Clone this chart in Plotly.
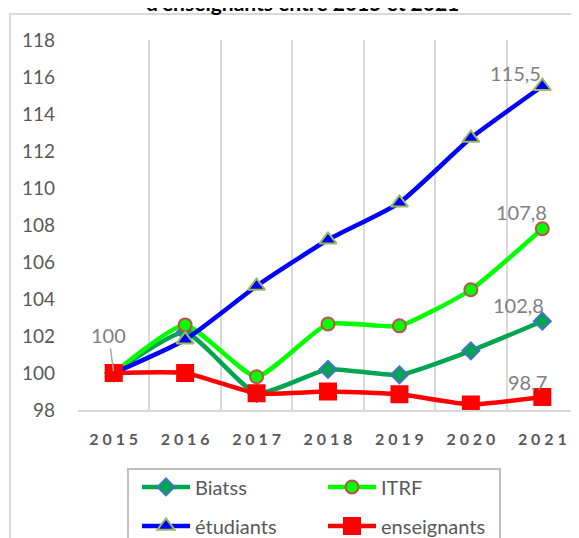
import plotly.graph_objects as go

years = [2015, 2016, 2017, 2018, 2019, 2020, 2021]
biatss = [100, 102.2, 98.9, 100.2, 99.9, 101.2, 102.8]
itrf = [100, 102.6, 99.8, 102.65, 102.55, 104.5, 107.8]
etudiants = [100, 101.8, 104.7, 107.2, 109.2, 112.7, 115.5]
enseignants = [100, 100.0, 98.9, 99.0, 98.85, 98.3, 98.7]
series_names = ["Biatss", "ITRF", "étudiants", "enseignants"]
title_line = "d'enseignants entre 2015 et 2021"
y_ticks = list(range(98, 119, 2))

FONT = "Lato"
GRID = "#d9d9d9"

fig = go.Figure()

styles = [
    (biatss, "#00A550", "diamond", 13, "#4472C4", "legend"),
    (itrf, "#00FF00", "circle", 13, "#C0504D", "legend"),
    (etudiants, "#0000FF", "triangle-up", 15, "#9BBB59", "legend2"),
    (enseignants, "#FF0000", "square", 16, "#FF0000", "legend2"),
]
for name, (vals, col, sym, size, edge, leg) in zip(series_names, styles):
    fig.add_trace(go.Scatter(
        x=years, y=vals, name=name, mode="lines+markers",
        line=dict(color=col, width=4.5, shape="spline", smoothing=0.5),
        marker=dict(symbol=sym, size=size, color=col, line=dict(color=edge, width=2)),
        legend=leg,
    ))

def fmt(v):
    s = f"{v:.1f}".replace(".", ",")
    return s[:-2] if s.endswith(",0") else s

# data labels on the last points
for vals, dx, dy in [(etudiants, -27, 13), (itrf, -21, 17), (biatss, -24, 16), (enseignants, -15, 15)]:
    fig.add_annotation(x=years[-1], y=vals[-1], text=fmt(vals[-1]), showarrow=False,
                       xshift=dx, yshift=dy, font=dict(family=FONT, size=20, color="#808080"))
fig.add_annotation(x=years[0], y=enseignants[0], text=fmt(enseignants[0]), showarrow=True,
                   arrowhead=0, arrowwidth=1.5, arrowcolor="#a6a6a6", ax=-5, ay=-38, standoff=2,
                   font=dict(family=FONT, size=20, color="#808080"))

# title: only its last line shows at the top edge, as in the source
fig.add_annotation(xref="paper", yref="paper", x=0.448, y=1.062, yanchor="bottom",
                   text="<b>" + title_line + "</b>", showarrow=False,
                   font=dict(family=FONT, size=21, color="#000000"))

# chart frame and legend box
fig.add_shape(type="rect", xref="paper", yref="paper", x0=-0.136, x1=1.2, y0=-0.5, y1=1.0703,
              line=dict(color=GRID, width=2), layer="below")
fig.add_shape(type="rect", xref="paper", yref="paper", x0=0.1, x1=0.844, y0=-0.5, y1=-0.1595,
              line=dict(color="#bfbfbf", width=2), layer="below")

leg_common = dict(orientation="h", x=0.118, xanchor="left", yanchor="middle",
                  entrywidth=123, itemwidth=48,
                  font=dict(family=FONT, size=20, color="#595959"),
                  bgcolor="rgba(0,0,0,0)", traceorder="normal")

fig.update_layout(
    width=579, height=538,
    # the page body adds an 8px offset, so margins are shifted by 8px
    margin=dict(l=70, r=9, t=32, b=136, autoexpand=False),
    paper_bgcolor="white", plot_bgcolor="white",
    font=dict(family=FONT, color="#595959"),
    legend=dict(leg_common, y=-0.208),
    legend2=dict(leg_common, y=-0.3135),
    xaxis=dict(
        range=[years[0] - 0.5, years[-1] + 0.5], automargin=False,
        tickvals=years, ticktext=[" ".join(str(y)) for y in years],
        tickfont=dict(family=FONT, size=16, color="#595959", weight="bold"),
        showgrid=False, zeroline=False,
        showline=True, linecolor=GRID, linewidth=2,
        ticks="", ticklabelstandoff=14,
        minor=dict(tick0=years[0] - 0.5, dtick=1, showgrid=True, gridcolor=GRID, gridwidth=2),
    ),
    yaxis=dict(
        range=[98, 118], tickvals=y_ticks, automargin=False,
        tickfont=dict(family=FONT, size=19, color="#595959"),
        showgrid=False, zeroline=False, showline=False, ticks="",
        ticklabelstandoff=22,
    ),
)

fig.write_html("out.html")
